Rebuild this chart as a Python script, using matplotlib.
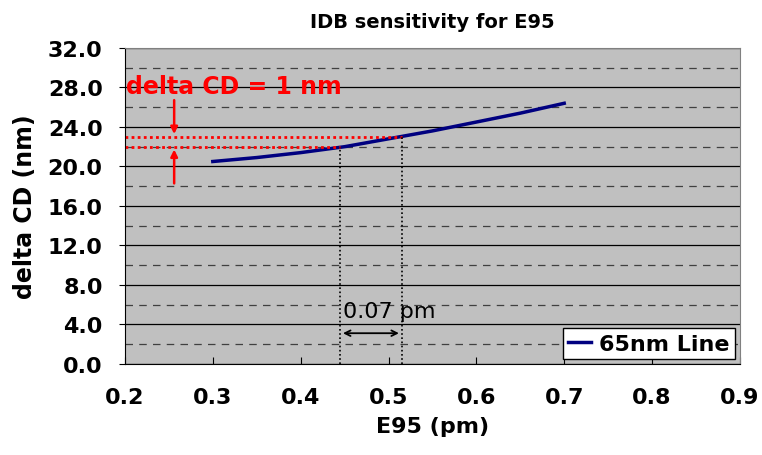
import numpy as np
import matplotlib.pyplot as plt
from matplotlib.ticker import MultipleLocator

# IDB sensitivity data for the 65nm line
e95 = [0.30, 0.35, 0.40, 0.45, 0.50, 0.55, 0.60, 0.65, 0.70]
delta_cd = [20.5, 20.9, 21.4, 22.0, 22.8, 23.6, 24.5, 25.4, 26.4]

# the two CD levels 1 nm apart and the E95 values where the curve hits them
cd_lo, cd_hi = 22.0, 23.0
e_lo, e_hi = 0.445, 0.515

fig = plt.figure(figsize=(7.62, 4.56), dpi=100)
ax = fig.add_axes([0.164, 0.2, 0.807, 0.6925])
ax.set_facecolor('#C0C0C0')

ax.set_xlim(0.2, 0.9)
ax.set_ylim(0, 32)
ax.xaxis.set_major_locator(MultipleLocator(0.1))
ax.yaxis.set_minor_locator(MultipleLocator(2))
ax.set_xticks(np.arange(0.2, 0.91, 0.1))
ax.set_xticklabels([f'{v:.1f}' for v in np.arange(0.2, 0.91, 0.1)])
ax.set_yticks(np.arange(0, 33, 4))
ax.set_yticklabels([f'{v:.1f}' for v in np.arange(0, 33, 4)])

ax.grid(axis='y', which='major', color='black', lw=0.9, ls='-')
ax.grid(axis='y', which='minor', color='#404040', lw=0.9, ls=(0, (6, 5)))
ax.set_axisbelow(True)

for s in ['top', 'right']:
    ax.spines[s].set_color('#808080')
ax.spines['left'].set_color('black')
ax.spines['bottom'].set_color('black')

ax.tick_params(axis='x', direction='in', length=5, labelsize=16, pad=17)
ax.tick_params(axis='y', which='major', direction='out', length=4, labelsize=16, pad=12)
ax.tick_params(axis='y', which='minor', length=0)
for lab in ax.get_xticklabels() + ax.get_yticklabels():
    lab.set_fontweight('bold')

ax.plot(e95, delta_cd, color='#000080', lw=2.5, label='65nm Line')

# red dotted CD levels and black dotted drops to the x axis
ax.plot([0.2, e_hi], [cd_hi, cd_hi], color='red', lw=2, ls=(0, (1, 1.2)))
ax.plot([0.2, e_lo], [cd_lo, cd_lo], color='red', lw=2, ls=(0, (1, 1.2)))
ax.plot([e_lo, e_lo], [0, cd_lo], color='black', lw=1.2, ls=(0, (1, 1.5)))
ax.plot([e_hi, e_hi], [0, cd_hi], color='black', lw=1.2, ls=(0, (1, 1.5)))

# arrows marking the 1 nm gap
ax.annotate('', xy=(0.256, cd_hi), xytext=(0.256, 27.0),
            arrowprops=dict(arrowstyle='-|>', color='red', lw=1.8, mutation_scale=10))
ax.annotate('', xy=(0.256, cd_lo), xytext=(0.256, 18.0),
            arrowprops=dict(arrowstyle='-|>', color='red', lw=1.8, mutation_scale=10))
ax.text(0.201, 28.2, 'delta CD = 1 nm', color='red', fontsize=17,
        fontweight='bold', va='center', ha='left')

# E95 difference
ax.annotate('', xy=(e_lo, 3.1), xytext=(e_hi, 3.1),
            arrowprops=dict(arrowstyle='<->', color='black', lw=1.3))
ax.text(e_lo + 0.003, 5.4, f'{e_hi - e_lo:.2f} pm', fontsize=16,
        va='center', ha='left')

ax.set_title('IDB sensitivity for E95', fontsize=14, fontweight='bold', pad=15)
ax.set_xlabel('E95 (pm)', fontsize=16, fontweight='bold', labelpad=6)
ax.set_ylabel('delta CD (nm)', fontsize=17, fontweight='bold', labelpad=8)

leg = ax.legend(loc='lower right', prop={'weight': 'bold', 'size': 16},
                frameon=True, fancybox=False, handlelength=1.0, handletextpad=0.4,
                borderaxespad=0.2, borderpad=0.25)
leg.get_frame().set_edgecolor('black')
leg.get_frame().set_facecolor('white')
leg.get_frame().set_alpha(1)

fig.savefig('out.png', dpi=100)
